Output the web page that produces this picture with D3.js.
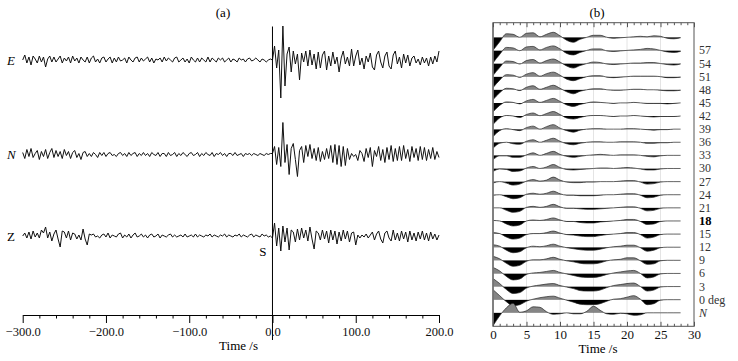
<!DOCTYPE html>
<html>
<head>
<meta charset="utf-8">
<script src="https://cdn.jsdelivr.net/npm/d3@7"></script>
<style>
  body { margin: 0; background: #fff; }
  svg { display: block; }
  text { font-family: "Liberation Serif", "Times New Roman", serif; }
</style>
</head>
<body>
<svg id="chart" width="738" height="361"></svg>
<script>
// DATA

// panel (a): samples every 2.5 s, pre = -300..-2.5 s, post = 0..200 s (amplitude, up positive)
const e_pre = [
  0, 5, -3, 3, -5, 4, 1, -3, 4, -2,
  3, -7, 1, 4, -2, 3, -2, 1, 4, -3,
  2, -1, 3, -3, 4, -1, 2, -3, 3, 0,
  -2, 3, -3, 2, 4, -2, 1, -3, 2, 3,
  -2, 1, 3, -3, 2, -2, 3, -1, 0, 2,
  -3, 3, 0, -2, 2, 3, -2, 2, -1, 1,
  3, -2, 2, -3, 1, 0, 2, -2, 3, -1,
  2, 0, -2, 2, 3, -2, 0, 2, -2, 1,
  -3, 3, 0, -2, 2, -2, 2, 0, -2, 3,
  -2, 2, 0, -2, 2, 0, 2, -2, 0, 2,
  -2, 1, 0, -2, 2, 0, 1, -2, 1, 2,
  -1, 0, 2, 0, -2, 1, 0, -2, 0, 1
];
const e_post = [
  0, 14, -8, 10, -38, 34, -26, 6, 13, -12,
  9, -4, 6, -20, 7, -2, 9, -6, 10, -5,
  6, -9, 8, -8, 5, 9, -10, 4, -6, 8,
  -4, 3, -12, 2, 9, -4, 3, -6, 11, -6,
  4, 10, -5, 2, -9, 4, -2, 7, -7, -10,
  5, 9, -2, -8, 4, 8, -6, -9, 5, 9,
  -4, 3, -8, 6, -3, 5, -6, 2, 4, -3,
  1, -5, 3, -3, 2, -6, 3, -4, 4, -2,
  9
];
const n_pre = [
  2, -4, 5, -2, 6, -3, 1, 4, -5, 3,
  -2, 5, -4, 2, 6, -3, 4, -2, 3, -4,
  5, -1, 3, -4, 2, 4, -3, 1, -5, 2,
  3, -2, 1, -2, 2, 0, -3, 2, -1, 2,
  -2, 1, 2, -1, 0, -2, 1, 2, -1, 1,
  -2, 2, -1, 1, 2, -2, 1, -1, 2, -1,
  1, -2, 2, 0, -1, 2, -2, 1, 1, -2,
  2, -1, 0, 2, -2, 1, -1, 2, 0, -2,
  1, 2, -1, 0, 2, -2, 1, -1, 2, 0,
  -1, 2, -2, 1, 0, 2, -1, 1, -2, 1,
  1, -1, 2, -1, 0, 1, -2, 1, 0, 1,
  -1, 1, 0, -1, 1, 0, -1, 1, 0, 1
];
const n_post = [
  1, 8, -10, 7, -12, 32, -8, 10, -20, 6,
  11, -5, -22, 4, 8, -8, 9, -2, 10, -4,
  6, -6, 7, -7, 3, -5, 6, -4, 9, -8,
  10, -10, 9, -12, 8, -11, 6, -5, 1, -2,
  0, -6, 4, 1, -7, 6, -3, 7, -12, 4,
  -2, 8, -6, 5, -8, 7, -5, 9, -7, 6,
  -6, 8, -6, 9, -4, 5, -7, 8, -3, 6,
  -6, 8, -5, 7, -6, 5, -4, 7, -5, 3,
  -3
];
const z_pre = [
  0, 3, -2, 4, -3, 5, -1, 3, -2, 6,
  3, 9, -2, 4, -5, 2, 6, -3, -11, 5,
  4, -2, 5, -4, 3, 2, -3, 1, -4, 7,
  -3, -9, 2, 1, 2, -1, 0, -2, 1, 2,
  -1, 3, -2, 1, 0, -1, 2, 3, -2, 1,
  -1, 2, -2, 1, 3, -1, 0, 2, -1, 1,
  -2, 1, 2, -1, 0, 2, -2, 1, 0, -1,
  1, 2, -1, 1, -1, 0, 1, -1, 2, -1,
  0, 1, -1, 2, -1, 1, 0, -1, 1, 0,
  2, -1, 1, 0, -1, 1, 0, 2, -1, 1,
  0, -1, 1, 0, 2, -1, 1, 0, -1, 1,
  2, -1, 1, 0, -1, 2, 0, 1, -1, 0
];
const z_post = [
  -2, 13, -10, 8, -15, 10, -6, 8, -14, 6,
  4, -6, 7, -4, 8, -2, 6, -5, 9, -3,
  -13, 5, 3, -4, 6, -3, 5, -7, 6, -4,
  5, -8, 4, -5, 6, -3, 5, -6, 3, 4,
  -9, 1, -2, 1, -1, 2, -2, 1, 4, -4,
  2, 5, -3, -7, 3, 5, -2, -5, 6, -4,
  3, -5, 5, -3, 4, -6, 5, -4, 3, -5,
  4, -3, 5, -4, 3, -5, 4, -3, 2, -4,
  1
];
const a_ticks = [-300, -200, -100, 0, 100, 200];

// panel (b): one row per rotation angle, samples every 1 s from 0 to 28 s
const angle_labels = ["", "57", "54", "51", "48", "45", "42", "39", "36", "33", "30",
  "27", "24", "21", "18", "15", "12", "9", "6", "3", "0 deg", "N"];
const wave_times = d3.range(0, 29);
const angle_traces = [
  [-13,-4.5,3.5,3,0,4,4.5,0.5,3,5,1.5,-3,-5,-2,0,2,2,0,-1,-0.5,0,0.5,1,0.5,1.5,1,-1,-1.5,-0.5],
  [-12.5,-4,3,2.5,-0.3,3.5,4,0.5,3,4.5,1.5,-3,-4.5,-2,0,1.5,1.5,-0.5,-1,-0.5,0,0.5,1,2,1.5,0,-1.5,-2,-1],
  [-12,-4,2.5,2,-0.5,3,4,0.5,3,4.5,1.5,-2.5,-4.5,-2,0,1.5,1,-0.5,-1,-0.5,0,0.5,0.5,1,1,0,-1,-1.5,-0.5],
  [-11,-3.5,2,1.5,-0.7,2.5,4,0.5,3,4.5,1.5,-2.5,-4,-2,0,1,1,-0.5,-1,-0.5,0,0.5,0.5,0.5,0.5,0,-1,-1,-0.5],
  [-10,-3,1.5,1,-0.8,2.5,4,0.5,2.5,4.5,1.5,-2,-4,-1.5,0,1,1,0,-0.5,-0.5,0,0.5,0.5,0,0,-0.5,-1,-1,-0.5],
  [-9,-2.5,1,0.5,-1,2,3.5,0.5,2.5,4.5,1.5,-2,-3.5,-1.5,0,1,0.5,0,-0.5,0,0,0.5,0,-0.5,-0.5,-0.5,-1,-0.5,0],
  [-8.5,-2,0.5,0,-1.5,1.5,3,0.3,2.5,4.5,1.5,-2,-3,-1.5,0,0.5,0.5,0,-0.5,0,0,0.5,0,-0.5,-1,-0.5,-0.5,-0.5,0],
  [-7.5,-1.5,0.5,-0.5,-1.5,1.5,3,0,2.5,4.5,1,-1.5,-3,-1,0,0.5,0.5,0,0,0,0.5,0.5,0,-0.5,-1,-0.5,-0.5,0,0],
  [-6,-1,0,-1.5,-2,1,2.5,0,2,4,1,-1.5,-2.5,-1,0,0.5,0.5,0,0,0.5,0.5,0.5,0,-1,-1,-0.5,-0.5,0,0],
  [-4.5,-0.5,-0.5,-2,-2,0.5,2.5,0,2,4,1,-1,-2,-1,0,0.5,1,0.5,0,0.5,0.5,0.5,0,-1,-1.5,-0.5,0,0,0],
  [-3,-0.5,-1,-3,-2.5,0.5,2,0,1.5,4,1,-1,-1.5,-1,-0.5,0,0.5,0.5,0,0.5,1,0.5,-0.5,-1.5,-1.5,-0.5,0,0,0],
  [-1.5,0,-1.5,-3.5,-2.5,0.5,2,0.5,1.5,4.5,1.5,-0.5,-1,-1,-0.5,-0.5,0,0,0,0.5,1,1,-0.5,-2.5,-2,-0.5,0,0,0],
  [-0.5,0,-2,-4,-3,0.5,1.5,0.5,1.5,3.5,1,-0.5,-0.5,-1,-1,-1,-0.5,0,0,0.5,1,1,-0.5,-3,-2.5,-0.5,0,0,0],
  [0,0,-2.5,-4.5,-3.5,0.5,1.5,0.5,1.5,3.5,1,-0.5,-0.5,-1,-1.5,-1.5,-1,-0.5,0,0.5,1,1,-0.5,-3,-2.5,-0.5,0,0,0],
  [0.5,0,-3,-5,-4,0,1,0.5,1.5,3,1,-0.5,-0.5,-1.5,-2,-2,-1,-0.5,0,0.5,1.5,1.5,-0.5,-3.5,-3,-0.5,0,0,0],
  [1.5,0.5,-3,-5,-4,-0.5,0.5,0.5,1.5,3,1,-0.5,-1,-2,-2.5,-2.5,-1.5,-0.5,0,0.5,1.5,1.5,-0.5,-4,-3,-0.5,0,0,0],
  [2.5,1,-3,-5.5,-4.5,-0.5,1,0.5,1.5,3,1,-0.5,-1.5,-2.5,-3,-3,-2,-0.5,0.5,1,2,2,-0.5,-4,-3,-0.5,0,0,0],
  [4,1.5,-3,-6,-5,-1,0.5,0.5,1.5,3,1,-0.5,-1.5,-3,-3.5,-3.5,-2.5,-0.5,0.5,1,2.5,2.5,-0.5,-4,-3.5,-0.5,0,0,0],
  [6,2.5,-3,-6.5,-5.5,-1,0.5,1,2,3,1,-0.5,-2,-3.5,-4,-4,-3,-1,0.5,1.5,2.5,3,0,-4.5,-3.5,-0.5,0,0,0],
  [8,3,-3,-7,-6,-1.5,0.5,1.5,2.5,3,1,-0.5,-2,-4,-4.5,-4.5,-3.5,-1,1,2,3,3.5,0,-4.5,-3.5,-0.5,0,0,0],
  [10,4,-2,-6,-5,-1.5,0.5,2,3,3.5,1.5,-0.5,-2.5,-4.5,-5,-5,-4,-1.5,0.5,1,2.5,4,0.5,-5,-4,-0.5,0,0,0],
  [-13,-3,5,9.5,0.5,2,6,5.5,1,-1.5,-1,0,-1,-1,1.5,6.5,2.5,-1,-1.5,-0.5,-1,-2.5,-2,0,0,0,0,0,0]
];
const b_ticks = [0, 5, 10, 15, 20, 25, 30];

// RENDERING

const svg = d3.select('#chart');

function trace_points(pre, post){
  var pts = pre.map(function(v, i){ return [-300 + i * 300 / pre.length, v]; });
  post.forEach(function(v, i){ pts.push([i * 200 / (post.length - 1), v]); });
  return pts;
};

function draw_panel_a(){
  var x = d3.scaleLinear().domain([-300, 200]).range([22.7, 439]);
  var amp = d3.scaleLinear().domain([-40, 40]).range([40, -40]);

  var comps = [
    {name: 'E', pts: trace_points(e_pre, e_post), base: 60, italic: true},
    {name: 'N', pts: trace_points(n_pre, n_post), base: 154.5, italic: true},
    {name: 'Z', pts: trace_points(z_pre, z_post), base: 236, italic: false}
  ];

  comps.forEach(function(c){
    var line = d3.line()
      .x(function(d){ return x(d[0]); })
      .y(function(d){ return c.base + amp(d[1]); });

    svg.append('path')
      .attr('d', line(c.pts))
      .attr('fill', 'none')
      .attr('stroke', '#111')
      .attr('stroke-width', 1)
      .attr('stroke-linejoin', 'round');

    svg.append('text')
      .attr('x', 7)
      .attr('y', c.base + 4.5)
      .style('font-size', '13px')
      .style('font-style', c.italic ? 'italic' : 'normal')
      .text(c.name);
  });

  // S arrival marker
  svg.append('line')
    .attr('x1', x(0)).attr('x2', x(0))
    .attr('y1', 26.5).attr('y2', 340)
    .attr('stroke', '#000')
    .attr('stroke-width', 1);

  svg.append('text')
    .attr('x', x(0) - 9.5)
    .attr('y', 256)
    .attr('text-anchor', 'middle')
    .style('font-size', '13px')
    .text('S');

  var ax = svg.append('g')
    .attr('transform', 'translate(0,315)')
    .call(d3.axisBottom(x)
      .tickValues(d3.range(-300, 201, 20))
      .tickSize(3.5)
      .tickSizeOuter(0)
      .tickFormat(function(d){ return a_ticks.indexOf(d) >= 0 ? d3.format('.1f')(d) : ''; }));

  ax.attr('font-family', null).attr('font-size', null);
  ax.selectAll('.tick').filter(function(d){ return a_ticks.indexOf(d) >= 0; })
    .select('line').attr('y2', 8);
  ax.selectAll('text')
    .attr('y', 12)
    .style('font-size', '12.5px')
    .attr('fill', '#111');

  svg.append('text')
    .attr('x', 238.5)
    .attr('y', 350)
    .attr('text-anchor', 'middle')
    .style('font-size', '13px')
    .text('Time /s');

  svg.append('text')
    .attr('x', 223)
    .attr('y', 17)
    .attr('text-anchor', 'middle')
    .style('font-size', '13px')
    .text('(a)');
};

function draw_panel_b(){
  var left = 493, right = 694, top = 22.7, bottom = 326.3;
  var x = d3.scaleLinear().domain([0, 30]).range([left, right]);
  var y = d3.scalePoint().domain(d3.range(angle_traces.length)).range([37.3, 312.8]);
  var amp = d3.scaleLinear().domain([-15, 15]).range([15, -15]);

  var defs = svg.append('defs');
  defs.append('clipPath').attr('id', 'clip_frame')
    .append('rect')
      .attr('x', left).attr('y', top)
      .attr('width', right - left).attr('height', bottom - top);

  // light grid at every 5 s
  svg.append('g').selectAll('line')
    .data(b_ticks.slice(1, -1))
    .enter().append('line')
      .attr('x1', function(d){ return x(d); })
      .attr('x2', function(d){ return x(d); })
      .attr('y1', top).attr('y2', bottom)
      .attr('stroke', '#e4e4e4')
      .attr('stroke-width', 1);

  var g = svg.append('g').attr('clip-path', 'url(#clip_frame)');

  angle_traces.forEach(function(vals, i){
    var base = y(i);
    var pts = wave_times.map(function(t, k){ return [t, vals[k]]; });

    defs.append('clipPath').attr('id', 'up_' + i)
      .append('rect')
        .attr('x', left).attr('y', base - 40)
        .attr('width', right - left).attr('height', 40);
    defs.append('clipPath').attr('id', 'dn_' + i)
      .append('rect')
        .attr('x', left).attr('y', base)
        .attr('width', right - left).attr('height', 40);

    var area = d3.area()
      .x(function(d){ return x(d[0]); })
      .y0(base)
      .y1(function(d){ return base + amp(d[1]); })
      .curve(d3.curveMonotoneX);

    var line = d3.line()
      .x(function(d){ return x(d[0]); })
      .y(function(d){ return base + amp(d[1]); })
      .curve(d3.curveMonotoneX);

    g.append('path')
      .attr('d', area(pts))
      .attr('fill', '#858585')
      .attr('clip-path', 'url(#up_' + i + ')');

    g.append('path')
      .attr('d', area(pts))
      .attr('fill', '#000')
      .attr('clip-path', 'url(#dn_' + i + ')');

    g.append('path')
      .attr('d', line(pts))
      .attr('fill', 'none')
      .attr('stroke', '#222')
      .attr('stroke-width', 0.7);

    var lab = svg.append('text')
      .attr('x', 699)
      .attr('y', base + 4)
      .style('font-size', '12px')
      .attr('fill', '#333')
      .text(angle_labels[i]);
    if(angle_labels[i] === '18') lab.style('font-weight', 'bold').style('font-size', '12.5px').attr('fill', '#000');
    if(angle_labels[i] === 'N') lab.style('font-style', 'italic');
  });

  svg.append('rect')
    .attr('x', left).attr('y', top)
    .attr('width', right - left).attr('height', bottom - top)
    .attr('fill', 'none')
    .attr('stroke', '#555')
    .attr('stroke-width', 1);

  svg.append('line')
    .attr('x1', left).attr('x2', left)
    .attr('y1', top).attr('y2', bottom)
    .attr('stroke', '#777')
    .attr('stroke-width', 1.6);

  var minor = d3.range(0, 31, 1);

  var axb = svg.append('g')
    .attr('transform', 'translate(0,' + bottom + ')')
    .call(d3.axisBottom(x)
      .tickValues(minor)
      .tickSize(-2.5)
      .tickSizeOuter(0)
      .tickFormat(function(d){ return b_ticks.indexOf(d) >= 0 ? d : ''; }));
  axb.attr('font-family', null).attr('font-size', null);
  axb.select('.domain').remove();
  axb.selectAll('.tick line').attr('stroke', '#555');
  axb.selectAll('.tick').filter(function(d){ return b_ticks.indexOf(d) >= 0; })
    .select('line').attr('y2', -4.5);
  axb.selectAll('text')
    .attr('y', 3.5)
    .style('font-size', '13px')
    .attr('fill', '#111');

  var axt = svg.append('g')
    .attr('transform', 'translate(0,' + top + ')')
    .call(d3.axisTop(x)
      .tickValues(minor)
      .tickSize(-2.5)
      .tickSizeOuter(0)
      .tickFormat(''));
  axt.select('.domain').remove();
  axt.selectAll('.tick line').attr('stroke', '#555');
  axt.selectAll('.tick').filter(function(d){ return b_ticks.indexOf(d) >= 0; })
    .select('line').attr('y2', 4.5);

  svg.append('text')
    .attr('x', 598)
    .attr('y', 353)
    .attr('text-anchor', 'middle')
    .style('font-size', '13px')
    .text('Time /s');

  svg.append('text')
    .attr('x', 597)
    .attr('y', 17)
    .attr('text-anchor', 'middle')
    .style('font-size', '13px')
    .text('(b)');
};

draw_panel_a();
draw_panel_b();
</script>
</body>
</html>
